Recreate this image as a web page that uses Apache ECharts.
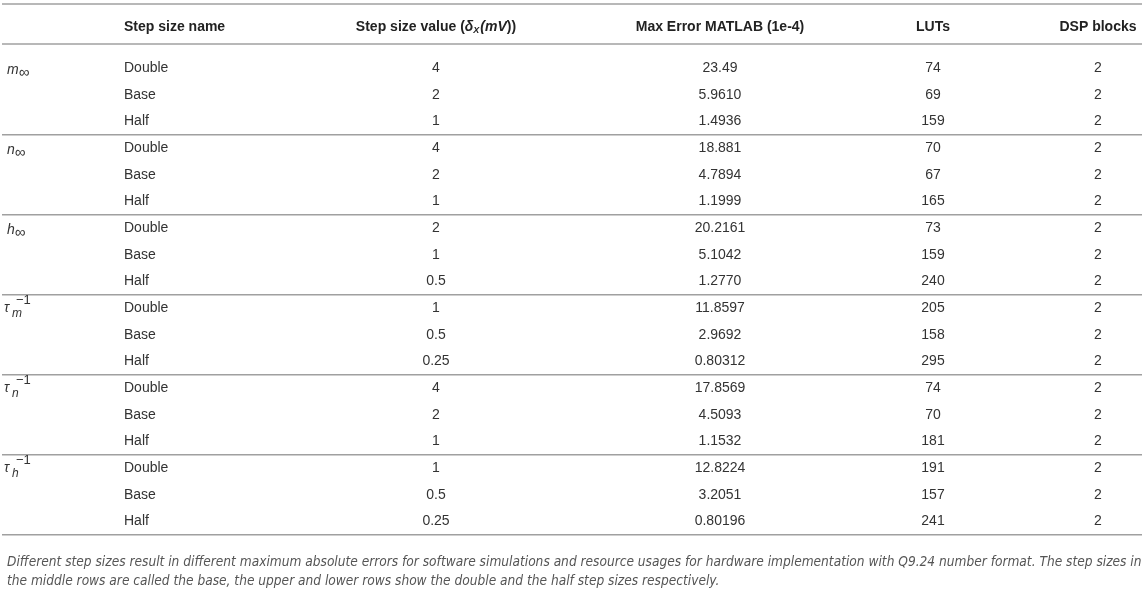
<!DOCTYPE html>
<html>
<head>
<meta charset="utf-8">
<script src="https://cdn.jsdelivr.net/npm/echarts@6/dist/echarts.min.js"></script>
<style>
  html, body { margin: 0; padding: 0; background: #fff; }
  #chart { width: 1145px; height: 598px; }
</style>
</head>
<body>
<div id="chart"></div>
<script>
// table contents
const headers = [
  "",
  "{b|Step size name}",
  "{b|Step size value (}{bi|δ}{sub|X}{bi|(mV}{b|))}",
  "{b|Max Error MATLAB (1e-4)}",
  "{b|LUTs}",
  "{b|DSP blocks}"
];
const groupSymbols = ["m", "n", "h", "τ", "τ", "τ"];
const groupSubs = ["∞", "∞", "∞", "m", "n", "h"];
const groupSups = ["", "", "", "−1", "−1", "−1"];
const stepNames = ["Double", "Base", "Half"];
const stepValues = ["4", "2", "1", "4", "2", "1", "2", "1", "0.5",
  "1", "0.5", "0.25", "4", "2", "1", "1", "0.5", "0.25"];
const maxErrors = ["23.49", "5.9610", "1.4936", "18.881", "4.7894", "1.1999",
  "20.2161", "5.1042", "1.2770", "11.8597", "2.9692", "0.80312",
  "17.8569", "4.5093", "1.1532", "12.8224", "3.2051", "0.80196"];
const luts = [74, 69, 159, 70, 67, 165, 73, 159, 240, 205, 158, 295, 74, 70, 181, 191, 157, 241];
const dspBlocks = [2, 2, 2, 2, 2, 2, 2, 2, 2, 2, 2, 2, 2, 2, 2, 2, 2, 2];
const caption = "Different step sizes result in different maximum absolute errors for software simulations and resource usages for hardware implementation with Q9.24 number format. The step sizes in\nthe middle rows are called the base, the upper and lower rows show the double and the half step sizes respectively.";

// layout
const colX = [7, 124, 436, 720, 933, 1098];
const colAlign = ["left", "left", "center", "center", "center", "center"];
const headerRow = -1.54;
const ruleRows = [-2.4, -0.9, 2.5, 5.5, 8.5, 11.5, 14.5, 17.5];
const FONT = "'Liberation Sans', Arial, Helvetica, sans-serif";

// build cell list
const cells = [];
headers.forEach((h, c) => { if (h) cells.push({ col: c, row: headerRow, text: h }); });
stepValues.forEach((v, i) => {
  cells.push({ col: 1, row: i, text: stepNames[i % 3] });
  cells.push({ col: 2, row: i, text: v });
  cells.push({ col: 3, row: i, text: maxErrors[i] });
  cells.push({ col: 4, row: i, text: String(luts[i]) });
  cells.push({ col: 5, row: i, text: String(dspBlocks[i]) });
});

const chart = echarts.init(document.getElementById("chart"));

const richStyles = {
  b: { fontFamily: FONT, fontSize: 14, fontWeight: "bold", fill: "#222" },
  bi: { fontFamily: FONT, fontSize: 14, fontWeight: "bold", fontStyle: "italic", fill: "#222" },
  sub: { fontFamily: FONT, fontSize: 9, fontWeight: "bold", fontStyle: "italic", fill: "#222", padding: [7, 1, 0, 0] },
  i: { fontFamily: FONT, fontSize: 14, fontStyle: "italic", fill: "#333" },
  inf: { fontFamily: FONT, fontSize: 15, fill: "#333", padding: [6, 0, 0, 0] }
};

const option = {
  animation: false,
  title: {
    text: caption,
    left: 7,
    top: 553,
    padding: 0,
    textStyle: {
      fontFamily: "'DejaVu Sans Condensed', 'Liberation Sans', Arial, sans-serif",
      fontStyle: "italic",
      fontWeight: "normal",
      fontSize: 13.6,
      lineHeight: 19,
      color: "#555"
    }
  },
  grid: { left: 0, right: 0, top: 0, bottom: 0 },
  xAxis: { type: "value", min: 0, max: 1145, show: false },
  yAxis: { type: "value", min: -2.55, max: 19.875, inverse: true, show: false },
  series: [
    {
      // horizontal rules
      type: "custom",
      data: ruleRows.map((r) => [0, r]),
      renderItem: (params, api) => {
        const a = api.coord([2, api.value(1)]);
        const b = api.coord([1142, api.value(1)]);
        return {
          type: "line",
          shape: { x1: a[0], y1: a[1], x2: b[0], y2: b[1] },
          style: { stroke: "#a0a0a0", lineWidth: 1.5 }
        };
      }
    },
    {
      // text cells
      type: "custom",
      data: cells.map((c) => [colX[c.col], c.row]),
      renderItem: (params, api) => {
        const c = cells[params.dataIndex];
        const p = api.coord([api.value(0), api.value(1)]);
        return {
          type: "text",
          x: p[0],
          y: p[1],
          style: {
            text: c.text,
            align: colAlign[c.col],
            verticalAlign: "middle",
            font: "14px " + FONT,
            fill: "#333",
            rich: richStyles
          }
        };
      }
    },
    {
      // group labels with sub / superscripts
      type: "custom",
      data: groupSymbols.map((s, g) => [colX[0], g * 3]),
      renderItem: (params, api) => {
        const g = params.dataIndex;
        const p = api.coord([api.value(0), api.value(1)]);
        const sup = groupSups[g];
        if (!sup) {
          return {
            type: "text", x: p[0], y: p[1] + 2,
            style: {
              text: "{i|" + groupSymbols[g] + "}{inf|" + groupSubs[g] + "}",
              verticalAlign: "middle", rich: richStyles
            }
          };
        }
        return {
          type: "group",
          children: [
            {
              type: "text", x: p[0] - 3, y: p[1],
              style: { text: groupSymbols[g], verticalAlign: "middle", font: "italic 14px " + FONT, fill: "#333" }
            },
            {
              type: "text", x: p[0] + 5, y: p[1] + 6,
              style: { text: groupSubs[g], verticalAlign: "middle", font: "italic 12px " + FONT, fill: "#333" }
            },
            {
              type: "text", x: p[0] + 9, y: p[1] - 8,
              style: { text: sup, verticalAlign: "middle", font: "13px " + FONT, fill: "#333" }
            }
          ]
        };
      }
    }
  ]
};

chart.setOption(option);
</script>
</body>
</html>
